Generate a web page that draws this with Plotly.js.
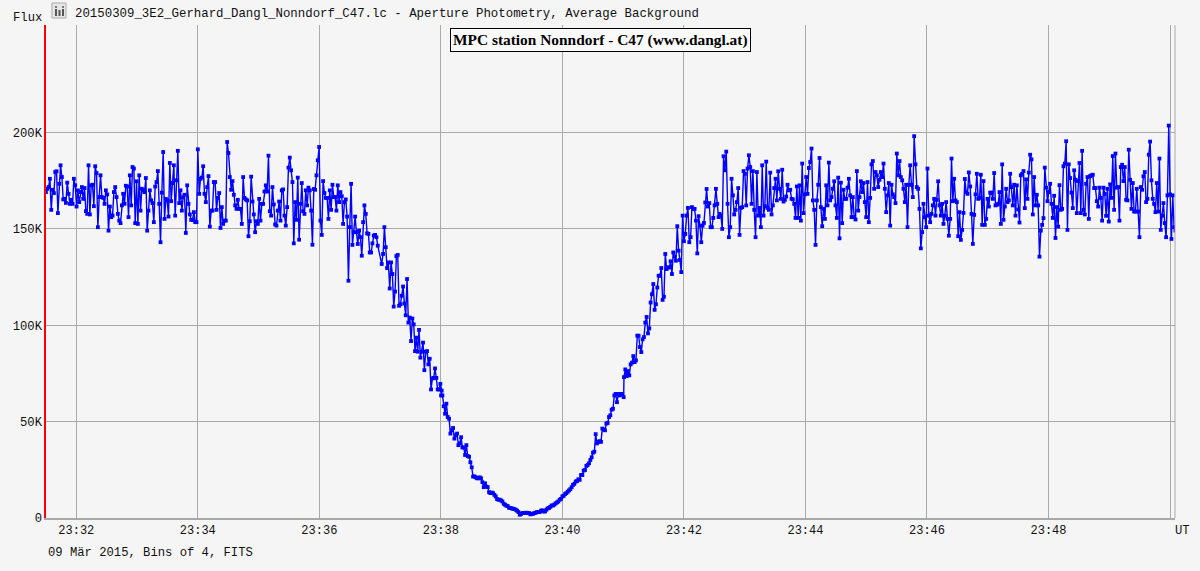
<!DOCTYPE html>
<html><head><meta charset="utf-8">
<style>html,body{margin:0;padding:0;background:#f5f5f5;overflow:hidden}</style>
<script src="https://cdn.plot.ly/plotly-3.0.1.min.js"></script>
</head><body><div id="chart" style="width:1200px;height:571px"></div>
<script>
// Flux in thousands (K), one list per stretch of the curve.
const fluxBefore = [169.1,170.8,171.7,176,159.9,170.3,168.6,179.5,179.9,158.2,173.4,183,176.9,165.3,165.6,163.5,174,168.2,163,165.1,163,176,172.6,161.6,170,163.9,169.1,171.7,165.6,171.2,159.2,157.8,183,157.5,172.6,172.9,161.8,182.5,179,150.9,166.5,177.8,166.5,166.1,163,170,167.9,149.1,161.6,156.1,156.9,169.1,171.7,166.5,157.8,154.3,153,162.2,168.2,163,172.4,172,156.1,177.8,162.2,182.1,181.3,153,174.7,152.6,177.8,159.5,170.8,170,169.1,176.4,149.1,159.5,170,164.8,163.4,153.5,172,174.3,180,163,143.1,168.8,189.9,155.2,165.6,164.8,156.4,184.2,164.4,173.8,183,156.9,175.2,190.5,163.4,170,159.5,166.5,167.7,147.9,172.6,163,157.5,154.7,154.7,158.7,153.5,153.5,191.3,168.2,176,176.6,182.5,168.2,163.9,171.7,177.4,151.2,159.5,159.5,174.3,174.3,159.9,166.1,168.6,150.5,161.3,152.6,154.3,154.3,195.1,189.4,176.9,170.3,174.8,167.7,162.2,160.4,165.1,160.4,160.4,152.6,176.9,166.1,165.3,164.8,146.2,154,177.1,164.2,157.5,148.3,154,152.6,165.6,154.3,163,163,169.4,172.6,169.4,188,159.2,156.9,171.7,162.7,152.3,151.7,159.5,164.2,154.3,170,170.5,156.9,151.7,161.3,181.8,187,180.4,174.3,142.5,163.9,154.7,176.6,144.4,163,173.8,159.2,157.8,170,162.2,171.4,170,159.5,141.8,170.7,170.3,177.8,185.6,192.5,154.3,146.9,174.8,168.6,166.1,166.1,155.2,170,159.9,172.9,166.5,166.5,159.5,172.6,163.9,169.1,167,152.6,163.9,165.3,156.4,123.1,150.9,173.4,141.7,148.3,156.4,148.3,142.2,149.1,145.7,136.1,153.5,162.2,157.8,147.7,147.4,137.8,137.8,142.5,146.5,146.9,145.7,141.3];
const fluxIngress = [131.8,137,150.9,140.5,129.7,132.6,119.1,132.6,126.6,109.7,117.5,135.9,136.5,110.1,110.9,115.3,120.1,111.3,105.2,124,101.4,104,91.8,103.5,100.5,86.6,93.6,86.3,97.6,83.2,86.3,91,76.7,86.3,86.6,79.7,82.6,66.7,72.4,72.7,77.6,72.7,66.7,66.7,69.6,66.1];
const fluxMinimum = [63.6,63.6,58,54.1,59.3,52.4,51.5,43.8,45.5,46.7,41.2,42.9,43.8,37.8,38.7,41.9,36.6,36.6,32.7,37.8,32.1,31.8,28.9,26.3,21.5,21.6,21.1,20.6,20.6,21.1,20.6,18.6,16,18,16.3,16,13.4,12.9,13.2,12.9,12,11.2,9.8,9.5,9.5,9.1,8.6,7.4,6.9,6.4,6.2,5.3,5.2,5,4.8,4.6,4.3,3.8,3.1,1.7,2.1,2.6,2.6,2.7,2.7,2.7,2.6,1.9,2.1,2.2,2.6,2.7,3.1,3.1,3.1,3.8,4,3.4,3.4,4.3,5,5.2,5.8,6.5,6.5,7,7.6,8.1,8.6,9.5,9.9,11.2,11.5,12.4,12.9,13.6,14.3,15,16,17.2,17.7,18.9,19.2,20.1,19.8,22.3,22.3,24.6,24.9,27,27.5,28.4,30.1,31.5,33.9,34.4,43.5,38.7,39.5,39.9,39.5,46.4,45.9,45.5,49,49.3,52.4,53.3,56.2,56.7,63.6,64.4,60.1,64.4,63.6,64.4,64.1,62.7];
const fluxEgress = [73.1,77.1,73.6,76.2,74,79.7,80.6,84,80.9,81.8,94.6,94.6,88.7,86.1,92.7,93.9,101.4,104.3,95.8,98.4,111.8,116.1,121.4,108,110.9,119.6,125.7,125.7,129.7,113.2,114.8,137,129.2,130,130,133.2,126.6,137.8,135.6,133.5,151.4,138.7,133.9,127.6,156.9,143.6,147.4,156.9,160.9,143.1,145.7,161.3,160.4,160.4,154.3,137.3,156.6,151.7,143.1,151.7,153.1,163.7,170.7,161.6,163.4,150.9,150.9,155.7,162.2,170.8,163,156.1];
const fluxAfterA = [157.8,156.9,150,187.7,180.4,190.1,163,145.7,150.9,176,167.4,157.5,159.9,163.9,171.2,146.9,160.9,161.3,180,178.6,162.2,181.3,188.2,182.1,163,180,159.9,145.7,179.5,156.9,160.9,150.9,183,156.9,161.8,184.9,160.9,159.9,179.2,157.5,162.2,171.2,176,164.8,179.9,170.8,165.6,180.7,164.2,165.1,166.8,172.9,170,170.3,165.6,165.3,163,155.7,172,155.7,172.6,154.3,183.9,158.2,167.9,176.9,168.2,181.6,184.7,191.7,164.8,159.9,141.7,164.8,172.9,186.8,161.3,151.4,160.4,155.2,172.6,162.2,184.4,164.8,166.5,170.8,174.7,162.2,155.7,176.6,145.1,174,153,170.3,165.6,165.6,171.4,176,167.4,156.1,166.5,156.1,154.9,180,159.5,166.5,174.7,169.1,173.8,163.9,156.1,174.3,153.5,166.1,183.5,185.2,170.8,179.5,177.8,171.7,175.5,179.5,176.9,183.9,170.8,158.7,167.4,173.8,151.7,172.9,167.9,166.5,163.4,189.1,177.8,185.2,176.9,175.2,170.8,163.9,172.9,150.9,172.9,183,172.9,166.5,198.1,183.5,171.7,170.8,160.4,139.9,148.3,163,156.1,150.9,181.3,156.9,153.5,157.8,162.2,165.6,156.9,165.1,174.7,162.2,156.9,163,152.6,156.9,163.9,155.2];
const fluxAfterB = [146.5,155.2,186.5,164.4,176,164.8,163.9,146.2,158.7,144.3,149.5,158.3,175.9,169.1,168.2,179.3,172,157.8,142.2,157.3,167.9,178.6,165.6,166.1,178.1,152.1,174.8,152.1,155.2,165.6,161.6,168.8,168.8,165.6,179,162.2,162.5,163,169.1,152.6,183.5,154.7,161.6,170.8,163.9,164.8,178.6,171.7,162.2,172.9,156.9,172.6,160.1,153.3,177.8,178.6,180,160.8,175.7,165.6,179.2,188.5,186.1,157.5,176.9,162.2,167.7,162.2,135.6,149.1,152.1,155.6,181.8,171.4,164.4,169.1,173.4,163,155.7,167.2,145.3,161.3,151.2,172.7,159.9,160.4,182.5,183.9,195.5,149.5,183.5,176.4,168.8,160.8,180.4,175.5,158.2,174.8,184.2,158.2,190.5,159.9,157.5,173.4,176.9,155.2,177.4,177.8,178.1,171.2,171.2,164.4,161.6,171.4,166.1,154.3,171.4,168.2,156.8,170.8,153.8,173.1,166.1,187.8,159.9,189.1,171.4,171.7,154.3,182.1,183.3,174.8,182.1,165.1,164.8,191.1,175.5,160.4,173.8,159,159,170.8,159,145.7,171.7,170.3,177.3,179.5,163.9,165.6,188.5,195.3,175.2,165.6,163,158.7,173.8,159,186.5,149.5,156.9,163.4,153,145.7,167.4,203.6,167.9,144.8,167.4,150.9,149.1];
const stretches = [fluxBefore, fluxIngress, fluxMinimum, fluxEgress, fluxAfterA, fluxAfterB];
const stretchStartSec = [0, 331.6, 390.2, 570.8, 665.2, 891.6]; // seconds after 23:31:30
const cadenceSec = 1.316;
const obsStart = Date.UTC(2015, 2, 9, 23, 31, 30);

const xTickVals = ['2015-03-09 23:32:00','2015-03-09 23:34:00','2015-03-09 23:36:00','2015-03-09 23:38:00','2015-03-09 23:40:00','2015-03-09 23:42:00','2015-03-09 23:44:00','2015-03-09 23:46:00','2015-03-09 23:48:00','2015-03-09 23:50:00'];
const xTickText = ['23:32','23:34','23:36','23:38','23:40','23:42','23:44','23:46','23:48',''];
const yTickVals = [0, 50, 100, 150, 200];
const yTickText = ['0', '50K', '100K', '150K', '200K'];
const titleText = '20150309_3E2_Gerhard_Dangl_Nonndorf_C47.lc - Aperture Photometry, Average Background';
const stationText = '<b>MPC station Nonndorf - C47 (www.dangl.at)</b>';
const footerText = '09 Mär 2015, Bins of 4, FITS';

const times = [], flux = [];
stretches.forEach((s, k) => s.forEach((v, i) => {
  times.push(obsStart + (stretchStartSec[k] + i * cadenceSec) * 1000);
  flux.push(v);
}));

const mono = 'Liberation Mono, Courier New, monospace';
const W = 1200, H = 571, L = 46, R = 1175.3, T = 25, B = 518;
const px = x => (x - L) / (R - L), py = y => (B - y) / (B - T);
const note = (text, x, y, xa, extra) => Object.assign({
  text, xref: 'paper', yref: 'paper', x: px(x), y: py(y), xanchor: xa, yanchor: 'middle',
  showarrow: false, font: {family: mono, size: 12.2, color: '#111'}
}, extra || {});
const rect = (x0, y0, x1, y1, fill, line) => ({
  type: 'rect', xref: 'paper', yref: 'paper', x0: px(x0), x1: px(x1), y0: py(y0), y1: py(y1),
  fillcolor: fill, line: {color: line || fill, width: line ? 1 : 0}
});

Plotly.newPlot('chart', [{
  x: times, y: flux, type: 'scatter', mode: 'lines+markers',
  line: {color: '#0000ff', width: 1.4},
  marker: {color: '#0000ff', size: 3.8, symbol: 'square'},
  hoverinfo: 'skip'
}], {
  width: W, height: H, showlegend: false,
  paper_bgcolor: '#f5f5f5', plot_bgcolor: '#f5f5f5',
  margin: {l: L, r: W - R, t: T, b: H - B, pad: 0},
  title: {text: titleText, x: 75 / W, xanchor: 'left', xref: 'container',
          y: 1 - 12.5 / H, yanchor: 'middle', yref: 'container',
          font: {family: mono, size: 12.38, color: '#111'}},
  xaxis: {type: 'date', range: [obsStart + 100, obsStart + 1114900],
          tickmode: 'array', tickvals: xTickVals, ticktext: xTickText,
          showgrid: true, gridcolor: '#a9a9a9', gridwidth: 1, zeroline: false,
          showline: true, linecolor: '#a9a9a9', linewidth: 1.5, ticks: '',
          tickfont: {family: mono, size: 12, color: '#111'}},
  yaxis: {range: [0, 255.8], tickmode: 'array', tickvals: yTickVals, ticktext: yTickText,
          showgrid: true, gridcolor: '#a9a9a9', gridwidth: 1, zeroline: false,
          showline: true, linecolor: '#ff0000', linewidth: 1.6, ticks: '',
          tickfont: {family: mono, size: 12.2, color: '#111'}},
  annotations: [
    note('Flux', 11, 18, 'left'),
    note('UT', 1173, 531, 'left'),
    note(footerText, 46, 553, 'left'),
    note(stationText, 601, 39.5, 'center', {
      font: {family: 'Liberation Serif, serif', size: 15.4, color: '#000'},
      bgcolor: '#fafafa', bordercolor: '#000', borderwidth: 1, borderpad: 2
    })
  ],
  shapes: [
    {type: 'line', xref: 'paper', yref: 'paper', x0: 1, x1: 1, y0: 0, y1: 1,
     line: {color: '#a9a9a9', width: 1}},
    rect(52, 3, 66, 18, '#e6e6e6', '#aaaaaa'),
    rect(55, 9, 57, 16, '#555555'), rect(58.5, 10, 60.5, 16, '#555555'), rect(62, 9, 64, 16, '#555555'),
    rect(55, 6, 57, 8, '#777777'), rect(62, 6, 64, 8, '#777777')
  ]
}, {staticPlot: true, displayModeBar: false});
</script></body></html>
